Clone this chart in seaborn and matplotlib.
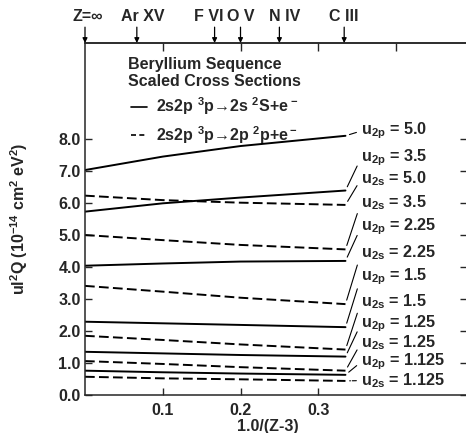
import pandas as pd
import matplotlib
matplotlib.use("Agg")
import matplotlib.pyplot as plt
from matplotlib.lines import Line2D
import seaborn as sns

# estilo geral
sns.set_style("ticks")
plt.rcParams['font.family'] = ['Liberation Sans', 'DejaVu Sans']
plt.rcParams['font.weight'] = 'bold'
plt.rcParams['mathtext.default'] = 'regular'

# ---------------- dados ----------------
x_read = [0.0, 0.1, 0.2, 0.335]

u2p_50 = [7.03, 7.45, 7.78, 8.10]
u2p_35 = [5.73, 5.99, 6.17, 6.39]
u2s_50 = [6.23, 6.09, 6.01, 5.94]
u2s_35 = [5.00, 4.84, 4.69, 4.55]
u2p_225 = [4.04, 4.11, 4.17, 4.19]
u2s_225 = [3.41, 3.23, 3.04, 2.84]
u2p_15 = [2.29, 2.24, 2.19, 2.12]
u2s_15 = [1.85, 1.72, 1.58, 1.42]
u2p_125 = [1.35, 1.30, 1.25, 1.20]
u2s_125 = [1.06, 0.97, 0.87, 0.76]
u2p_1125 = [0.76, 0.71, 0.67, 0.63]
u2s_1125 = [0.57, 0.52, 0.49, 0.44]

curves = [u2p_50, u2p_35, u2s_50, u2s_35, u2p_225, u2s_225,
          u2p_15, u2s_15, u2p_125, u2s_125, u2p_1125, u2s_1125]
kinds = ['p', 'p', 's', 's', 'p', 's', 'p', 's', 'p', 's', 'p', 's']
u_values = ['5.0', '3.5', '5.0', '3.5', '2.25', '2.25',
            '1.5', '1.5', '1.25', '1.25', '1.125', '1.125']
label_y = [8.25, 7.41, 6.75, 6.02, 5.25, 4.44, 3.69, 2.91, 2.23, 1.63, 1.03, 0.45]

ions = ['Z=\u221e', 'Ar XV', 'F VI', 'O V', 'N IV', 'C III']
ion_x = [0.0, 1 / 15, 1 / 6, 1 / 5, 1 / 4, 1 / 3]
ion_label_shift = [3, 6, -6, 0, 5, 0]   # deslocamento do texto (px)

yticks = [0, 1, 2, 3, 4, 5, 6, 7, 8]
xticks_bottom = [0.1, 0.2, 0.3]
xticks_top = [0.1, 0.2, 0.3, 0.4]

rows = []
for i, (vals, k) in enumerate(zip(curves, kinds)):
    for xv, yv in zip(x_read, vals):
        rows.append({'x': xv, 'y': yv, 'curva': i, 'tipo': k})
df = pd.DataFrame(rows)

FS = 11.5

# ---------------- figura ----------------
fig = plt.figure(figsize=(4.66, 4.33), dpi=100)
ax = fig.add_axes([85 / 466, 38 / 433, 381 / 466, 352 / 433])

sns.lineplot(data=df, x='x', y='y', units='curva', style='tipo',
             estimator=None, sort=False, color='black', lw=1.4,
             dashes={'p': '', 's': (5, 2.2)}, legend=False, ax=ax)

ax.set_xlim(0, 0.49)
ax.set_ylim(0, 11)
ax.set_xticks(xticks_bottom)
ax.set_xticklabels([f'{v:.1f}' for v in xticks_bottom])
ax.set_yticks(yticks)
ax.set_yticklabels([f'{v:.1f}' for v in yticks])
ax.tick_params(direction='in', length=5, width=1, labelsize=FS)
ax.tick_params(axis='x', pad=6)
ax.tick_params(axis='y', pad=3)
for s in ['left', 'bottom', 'top']:
    ax.spines[s].set_linewidth(1.1)
ax.spines['right'].set_visible(False)

ax.set_xlabel('1.0/(Z-3)', fontsize=FS, fontweight='bold')
ax.xaxis.set_label_coords(0.48, -0.068)
ax.set_ylabel('ul$^2$Q (10$^{-14}$ cm$^2$ eV$^2$)', fontsize=FS, fontweight='bold')
ax.yaxis.set_label_coords(-0.145, 0.5)

# eixo superior (so ticks)
top = ax.secondary_xaxis('top')
top.set_xticks(xticks_top)
top.set_xticklabels([])
top.tick_params(direction='in', length=6, width=1)
top.spines['top'].set_linewidth(1.1)

# ticks do lado direito
right = ax.secondary_yaxis('right')
right.set_yticks(yticks)
right.set_yticklabels([])
right.tick_params(direction='in', length=4, width=1)
right.spines['right'].set_visible(False)

# setas dos ions no topo
for name, xv, dx in zip(ions, ion_x, ion_label_shift):
    ax.annotate('', xy=(xv, 1.0), xycoords=('data', 'axes fraction'),
                xytext=(xv, 1.045), textcoords=('data', 'axes fraction'),
                arrowprops=dict(arrowstyle='-|>', lw=0.9, color='black',
                                mutation_scale=7, shrinkA=0, shrinkB=0),
                annotation_clip=False)
    ax.annotate(name, xy=(xv, 1.074), xycoords=('data', 'axes fraction'),
                xytext=(dx * 0.72, 0), textcoords='offset points',
                ha='center', va='center', fontsize=FS, fontweight='bold',
                annotation_clip=False)

# rotulos a direita com linhas de chamada
for vals, k, u, ly in zip(curves, kinds, u_values, label_y):
    txt = f'$u_{{2{k}}}$ = {u}'
    ax.annotate(txt, xy=(x_read[-1], vals[-1]), xytext=(0.355, ly),
                ha='left', va='center', fontsize=11.7, fontweight='bold',
                arrowprops=dict(arrowstyle='-', lw=0.8, color='black',
                                shrinkA=1, shrinkB=3, relpos=(0, 0.5),
                                linestyle='--' if u == '1.125' and k == 's' else '-'),
                annotation_clip=False)

# legenda
handles = [Line2D([], [], color='black', lw=1.2),
           Line2D([], [], color='black', lw=1.2, dashes=(3, 2))]
leg_labels = ['2s2p $^3$p\u21922s $^2$S+e$^-$',
              '2s2p $^3$p\u21922p $^2$p+e$^-$']
leg = ax.legend(handles, leg_labels,
                title='Beryllium Sequence\nScaled Cross Sections',
                loc='upper left', bbox_to_anchor=((128 - 85) / 381, (395 - 57) / 352),
                frameon=False, handlelength=1.0, handletextpad=0.6,
                labelspacing=0.4, borderpad=0, borderaxespad=0,
                prop={'size': FS, 'weight': 'bold'})
leg.get_title().set_fontweight('bold')
leg.get_title().set_fontsize(FS)

plt.savefig('out.png', dpi=100)
plt.close()
